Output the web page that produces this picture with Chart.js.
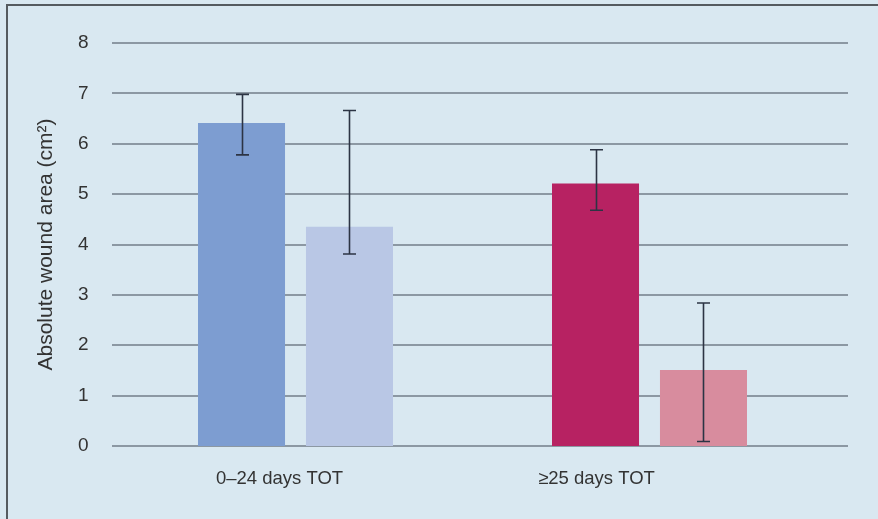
<!DOCTYPE html>
<html>
<head>
<meta charset="utf-8">
<script src="https://cdn.jsdelivr.net/npm/chart.js@4"></script>
<style>
  html, body { margin: 0; padding: 0; background: #d9e8f1; }
  #wrap { position: absolute; left: 0; top: 0; width: 878px; height: 519px; }
  #frame { position: absolute; left: 6px; top: 4px; right: 0; bottom: 0; border-left: 2px solid #555b60; border-top: 2px solid #555b60; pointer-events: none; }
</style>
</head>
<body>
<div id="wrap">
  <canvas id="woundChart" width="878" height="519"></canvas>
  <div id="frame"></div>
</div>
<script>
// ===== data =====
const categories = ['0\u201324 days TOT', '\u226525 days TOT'];
const firstBarValues = [6.41, 5.21];
const firstBarErrLow = [5.78, 4.68];
const firstBarErrHigh = [6.98, 5.88];
const secondBarValues = [4.35, 1.51];
const secondBarErrLow = [3.81, 0.09];
const secondBarErrHigh = [6.66, 2.84];
const yTicks = [0, 1, 2, 3, 4, 5, 6, 7, 8];

const FONT = 'Liberation Sans, Arial, Helvetica, sans-serif';
const labelNudge = [-16, -53]; // category labels sit left of their bar groups in the original

// horizontal gridlines start a little left of the bars and run past them
const gridPlugin = {
  id: 'gridLines',
  beforeDatasetsDraw(chart) {
    const ctx = chart.ctx;
    const y = chart.scales.y;
    ctx.save();
    ctx.strokeStyle = '#8c98a3';
    ctx.lineWidth = 2;
    yTicks.forEach(v => {
      const py = Math.round(y.getPixelForValue(v));
      ctx.beginPath();
      ctx.moveTo(chart.chartArea.left - 6.5, py);
      ctx.lineTo(chart.chartArea.right + 21.5, py);
      ctx.stroke();
    });
    ctx.restore();
  }
};

const categoryLabelPlugin = {
  id: 'categoryLabels',
  afterDraw(chart) {
    const ctx = chart.ctx;
    const x = chart.scales.x;
    ctx.save();
    ctx.fillStyle = '#333333';
    ctx.font = '18.5px ' + FONT;
    ctx.textAlign = 'center';
    ctx.textBaseline = 'middle';
    chart.data.labels.forEach((lbl, i) => {
      ctx.fillText(lbl, x.getPixelForValue(i) + labelNudge[i], chart.chartArea.bottom + 33);
    });
    ctx.restore();
  }
};

const errorBarPlugin = {
  id: 'errorBars',
  afterDatasetsDraw(chart) {
    const ctx = chart.ctx;
    const y = chart.scales.y;
    ctx.save();
    ctx.strokeStyle = '#2c3444';
    ctx.lineWidth = 1.6;
    chart.data.datasets.forEach((ds, di) => {
      const meta = chart.getDatasetMeta(di);
      meta.data.forEach((bar, i) => {
        const x = Math.round(bar.x) + 0.5;
        const top = y.getPixelForValue(ds.errHigh[i]);
        const bot = y.getPixelForValue(ds.errLow[i]);
        ctx.beginPath();
        ctx.moveTo(x, top); ctx.lineTo(x, bot);
        ctx.moveTo(x - 6.5, top); ctx.lineTo(x + 6.5, top);
        ctx.moveTo(x - 6.5, bot); ctx.lineTo(x + 6.5, bot);
        ctx.stroke();
      });
    });
    ctx.restore();
  }
};

new Chart(document.getElementById('woundChart'), {
  type: 'bar',
  data: {
    labels: categories,
    datasets: [
      { label: 'A', data: firstBarValues, errLow: firstBarErrLow, errHigh: firstBarErrHigh, backgroundColor: ['#7d9dd1', '#b72262'], barPercentage: 0.806, categoryPercentage: 0.61 },
      { label: 'B', data: secondBarValues, errLow: secondBarErrLow, errHigh: secondBarErrHigh, backgroundColor: ['#b9c7e5', '#d88c9e'], barPercentage: 0.806, categoryPercentage: 0.61 }
    ]
  },
  options: {
    responsive: false,
    animation: false,
    layout: { padding: { top: 43, right: 51.5, bottom: 0, left: 0 } },
    plugins: { legend: { display: false }, tooltip: { enabled: false } },
    scales: {
      x: {
        grid: { display: false, drawTicks: false },
        border: { display: false },
        ticks: { display: false },
        afterFit: s => { s.height = 73; }
      },
      y: {
        min: 0,
        max: 8,
        grid: { display: false, drawTicks: false },
        border: { display: false },
        ticks: { stepSize: 1, color: '#333333', font: { family: FONT, size: 19 }, padding: 30 },
        title: { display: true, text: 'Absolute wound area (cm\u00b2)', color: '#333333', font: { family: FONT, size: 21 }, padding: { top: 34, bottom: 0 } },
        afterFit: s => { s.width = 118.5; }
      }
    }
  },
  plugins: [gridPlugin, errorBarPlugin, categoryLabelPlugin]
});
</script>
</body>
</html>
